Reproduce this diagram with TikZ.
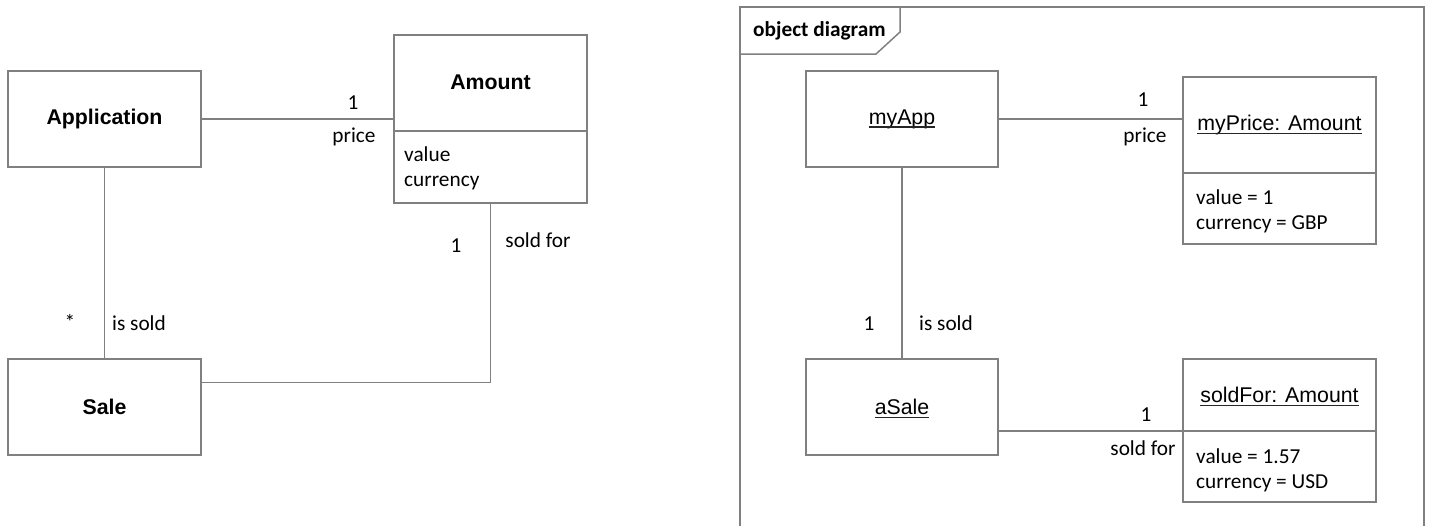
\documentclass[tikz,border=0pt]{standalone}
\usepackage{fontspec}
\setmainfont{Carlito}
\newfontfamily\arialfont{Liberation Sans}
\usetikzlibrary{calc}
\definecolor{linegray}{RGB}{128,128,128}
\begin{document}
\begin{tikzpicture}[x=1pt,y=-1pt,
  every node/.style={font=\fontsize{21.3}{25}\selectfont, text=black},
  box/.style={draw=linegray, line width=1.5pt, inner sep=0pt, minimum width=#1},
  cname/.style={font=\arialfont\bfseries\fontsize{21.3}{25}\selectfont, inner sep=0pt},
  oname/.style={font=\arialfont\fontsize{21.3}{25}\selectfont, inner sep=0pt},
  lbl/.style={inner sep=0pt},
  attr/.style={inner sep=0pt, anchor=base west},
  link/.style={draw=linegray, line width=1.5pt},
  undl/.style={draw=black!85, line width=1.3pt}
]
\useasboundingbox (0,0) rectangle (1432,525);

% ---------------- class diagram ----------------
\node[box=193pt, minimum height=96pt] (app) at (104.5,119) {};
\node[cname] (appname) at (app.center) {Application};

\node[box=193pt, minimum height=168pt] (amount) at (490.5,119) {};
\node[cname] (amountname) at (490.5,82) {Amount};
\coordinate (amdivL) at (394,131);
\coordinate (amdivR) at (587,131);
\draw[link] (amdivL) -- (amdivR);
\node[attr] (amv) at (404,161) {value};
\node[attr] (amc) at (404,186) {currency};

\node[box=193pt, minimum height=96pt] (sale) at (104.5,407) {};
\node[cname] (salename) at (sale.center) {Sale};

\draw[link] (app.east) -- (app.east -| amount.west);
\draw[link] (app.south) -- (sale.north);
\draw[link] (amount.south) |- ([yshift=-24pt]sale.north east);

\node[lbl] (m1) at (353,103) {1};
\node[lbl] (r1) at (354,137) {price};
\node[lbl] (m2) at (456,246) {1};
\node[lbl] (r2) at (538,240) {sold for};
\node[lbl] (m3) at (70,322) {*};
\node[lbl] (r3) at (139,323) {is sold};

% ---------------- object diagram frame ----------------
\coordinate (fbl) at (740,526);
\coordinate (ftl) at (740,7);
\coordinate (ftr) at (1424,7);
\coordinate (fbr) at (1424,526);
\draw[link] (fbl) -- (ftl) -- (ftr) -- (fbr);
\coordinate (tabA) at (740,54);
\coordinate (tabB) at (876,54);
\coordinate (tabC) at (900,32);
\coordinate (tabD) at (900,7);
\draw[link] (tabA) -- (tabB) -- (tabC) -- (tabD);
\node[lbl, anchor=west, font=\bfseries\fontsize{21.3}{25}\selectfont] (title) at (753,31) {object diagram};

% ---------------- objects ----------------
\node[box=192pt, minimum height=96pt] (myapp) at (902,119) {};
\node[oname] (myappname) at (myapp.center) {myApp};

\node[box=193pt, minimum height=167pt] (myprice) at (1279.5,160.5) {};
\node[oname] (mypricename) at (1279.5,125) {myPrice: Amount};
\coordinate (mpdivL) at (1183,173);
\coordinate (mpdivR) at (1376,173);
\draw[link] (mpdivL) -- (mpdivR);
\node[attr] (mpv) at (1196,204) {value = 1};
\node[attr] (mpc) at (1196,229) {currency = GBP};

\node[box=192pt, minimum height=96pt] (asale) at (902,407) {};
\node[oname] (asalename) at (asale.center) {aSale};

\node[box=193pt, minimum height=143pt] (soldfor) at (1279.5,430.5) {};
\node[oname] (soldforname) at (1279.5,395) {soldFor: Amount};
\coordinate (sfdivL) at (1183,431);
\coordinate (sfdivR) at (1376,431);
\draw[link] (sfdivL) -- (sfdivR);
\node[attr] (sfv) at (1196,463) {value = 1.57};
\node[attr] (sfc) at (1196,488) {currency = USD};

% underlined object names
\foreach \n in {myappname, mypricename, asalename, soldforname}
  \draw[undl] ([yshift=-3pt]\n.base west) -- ([yshift=-3pt]\n.base east);

\draw[link] (myapp.east) -- (myapp.east -| myprice.west);
\draw[link] (myapp.south) -- (asale.north);
\draw[link] (asale.east |- sfdivL) -- (sfdivL);

\node[lbl] (om1) at (1143,100) {1};
\node[lbl] (or1) at (1145,137) {price};
\node[lbl] (om2) at (869,324) {1};
\node[lbl] (or2) at (946,323) {is sold};
\node[lbl] (om3) at (1146,415) {1};
\node[lbl] (or3) at (1143,448) {sold for};
\end{tikzpicture}
\end{document}
